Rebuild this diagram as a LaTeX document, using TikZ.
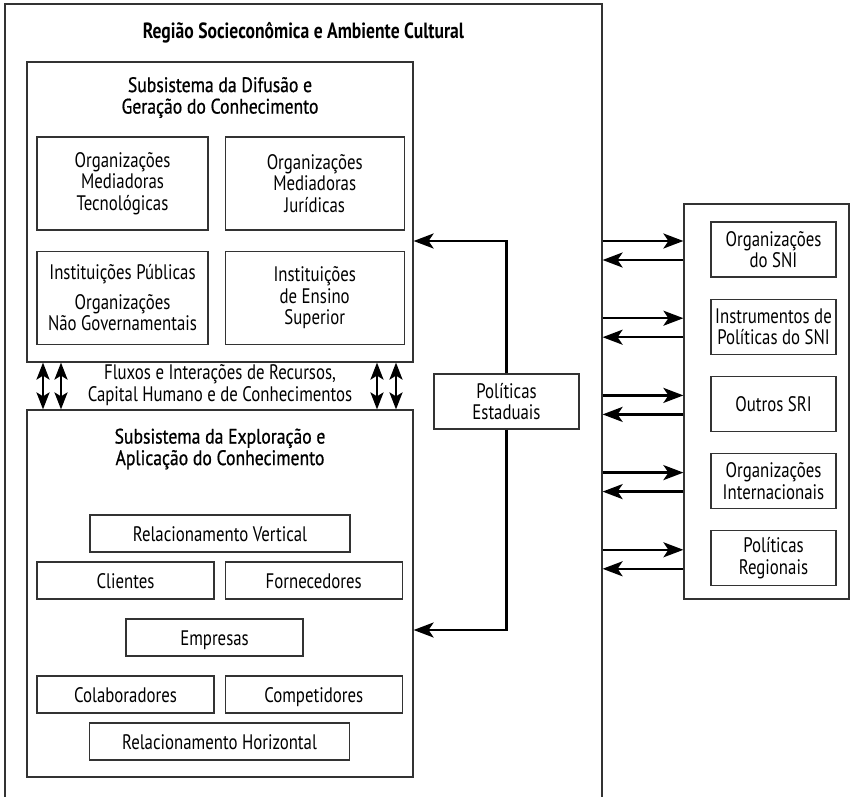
\documentclass[tikz,border=0pt]{standalone}
\usepackage{fontspec}
\setmainfont{PT Sans}[FakeStretch=0.8]
\newfontfamily\medio{PT Sans}[FakeStretch=0.84,FakeBold=0.8]
\usetikzlibrary{positioning,arrows.meta}
\definecolor{borda}{HTML}{333333}

\begin{document}
\begin{tikzpicture}[x=1pt,y=-1pt,
  font=\fontsize{21}{21.5}\selectfont,
  node distance=21pt
]

\tikzstyle{caixa}=[draw=borda,line width=1.2pt,rectangle,inner sep=0pt,align=center]
\tikzstyle{rotulo}=[inner sep=0pt,align=center]
\tikzstyle{seta}=[line width=2.4pt,-{Stealth[length=20pt,width=15pt,inset=5pt]}]
\tikzstyle{dupla}=[line width=2.4pt,{Stealth[length=17pt,width=13pt,inset=4pt]}-{Stealth[length=17pt,width=13pt,inset=4pt]}]
\tikzset{linha/.style={caixa,text height=15pt,text depth=0pt}}
\tikzset{peq/.style={linha,minimum width=177pt,minimum height=37pt}}

\useasboundingbox (0,0) rectangle (851,797);
\clip (0,0) rectangle (851,797);

% regiao
\node[caixa,minimum width=597pt,minimum height=826pt] (regiao) at (303.5,417) {};
\node[rotulo] (titulo) at (303.5,33) {\fontsize{22}{22}\selectfont\bfseries Região Socieconômica e Ambiente Cultural};

% subsistema superior
\node[caixa,minimum width=386pt,minimum height=300pt] (sup) at (220,212) {};
\node[rotulo] (tsup) at (220,97.5) {\medio Subsistema da Difusão e\\\medio Geração do Conhecimento};
\node[caixa,minimum width=171pt,minimum height=93pt] (omt) at (122.5,183.5)
  {Organizações\\Mediadoras\\Tecnológicas};
\node[caixa,minimum width=179pt,minimum height=93pt,right=16pt of omt] (omj)
  {Organizações\\Mediadoras\\Jurídicas};
\node[caixa,minimum width=171pt,minimum height=93pt,below=20pt of omt] (ipub)
  {Instituições Públicas\\[8pt]Organizações\\Não Governamentais};
\node[caixa,minimum width=179pt,minimum height=93pt,right=16pt of ipub] (ies)
  {Instituições\\de Ensino\\Superior};

% subsistema inferior
\node[caixa,minimum width=386pt,minimum height=367pt] (inf) at (220,593.5) {};
\node[rotulo] (tinf) at (220,449) {\medio Subsistema da Exploração e\\\medio Aplicação do Conhecimento};
\node[linha,minimum width=260pt,minimum height=37pt] (rv) at (220,533.5) {Relacionamento Vertical};
\node[peq] (cli) at (125.5,580.5) {Clientes};
\node[peq,right=10pt of cli] (forn) {Fornecedores};
\node[peq] (emp) at (214.5,637.5) {Empresas};
\node[peq] (col) at (125.5,694.5) {Colaboradores};
\node[peq,right=10pt of col] (comp) {Competidores};
\node[linha,minimum width=260pt,minimum height=37pt] (rh) at (219.5,741.5) {Relacionamento Horizontal};

% fluxos entre subsistemas
\node[rotulo] (fluxos) at (220,385) {Fluxos e Interações de Recursos,\\Capital Humano e de Conhecimentos};
\foreach \x in {43,61,377,396} {
  \path (\x,0) coordinate (v);
  \draw[dupla] (sup.south -| v) -- (inf.north -| v);
}

% politicas estaduais
\node[caixa,minimum width=145pt,minimum height=55pt] (pol) at (506.5,401.5) {Políticas\\Estaduais};
\draw[seta] (pol.north) |- ([yshift=-29pt]sup.east);
\draw[seta] (pol.south) |- ([yshift=-36.5pt]inf.east);

% sistema nacional
\node[caixa,minimum width=165pt,minimum height=395pt] (ext) at (766.5,401.5) {};
\tikzset{ext/.style={caixa,minimum width=125pt,minimum height=55pt}}
\node[ext] (snc1) at (773.5,249.5) {Organizações\\do SNI};
\node[ext,below=of snc1] (snc2) {Instrumentos de\\Políticas do SNI};
\node[ext,below=of snc2] (snc3) {Outros SRI};
\node[ext,below=of snc3] (snc4) {Organizações\\Internacionais};
\node[ext,below=of snc4] (snc5) {Políticas\\Regionais};

\foreach \i in {1,...,5} {
  \path (snc\i.west) ++(0,-8.5) coordinate (ida\i);
  \path (snc\i.west) ++(0,10.5) coordinate (volta\i);
  \draw[seta] (regiao.east |- ida\i) -- (ext.west |- ida\i);
  \draw[seta] (ext.west |- volta\i) -- (regiao.east |- volta\i);
}

\end{tikzpicture}
\end{document}
